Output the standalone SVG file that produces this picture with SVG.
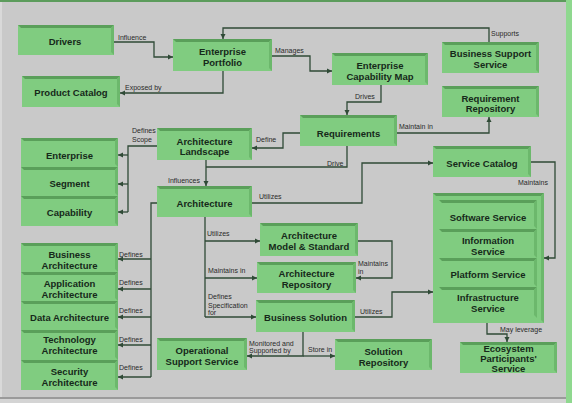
<svg xmlns="http://www.w3.org/2000/svg" width="572" height="403" viewBox="0 0 572 403">
<defs>
<marker id="a" markerWidth="6" markerHeight="6" refX="5" refY="3" orient="auto" markerUnits="userSpaceOnUse"><path d="M0,0.5 L5,3 L0,5.5z" fill="#2f4a36"/></marker>
<style>
.f{fill:#80cc80}
.t{fill:#5a9f5a}
.r{fill:#6cb86c}
.n{font-family:"Liberation Sans",Arial,sans-serif;font-weight:bold;font-size:9.5px;fill:#16291a;text-anchor:middle}
.l{font-family:"Liberation Sans",Arial,sans-serif;font-size:7px;fill:#2a2a2a}
.c{fill:none;stroke:#2f4a36;stroke-width:1.3}
.c .h{marker-end:url(#a)}
</style>
</defs>
<rect x="0" y="0" width="572" height="403" fill="#c9c9c9"/>
<rect x="0" y="0" width="2" height="403" fill="#d9d9d9"/>
<rect x="0" y="0" width="572" height="2" fill="#5c9c5c"/>
<rect x="566" y="0" width="6" height="403" fill="#8fd88f"/>
<rect x="0" y="397" width="566" height="2" fill="#9a9a9a"/>
<rect x="0" y="399" width="566" height="4" fill="#d4d4d4"/>

<g id="connectors" class="c">
<path class="h" d="M114,42H154V57H173"/>
<path class="h" d="M223,71V93H120"/>
<path class="h" d="M489,42V28H223V39"/>
<path class="h" d="M272,56H310V71H332"/>
<path class="h" d="M381,85V102H347V115"/>
<path class="h" d="M397,133H489V117"/>
<path class="h" d="M300,133H283V148H252"/>
<path d="M347,146V167H206"/>
<path class="h" d="M206,160V186"/>
<path class="h" d="M252,203H362V163H433"/>
<path class="h" d="M531,162H555V258H544"/>
<path d="M205,217V317"/>
<path class="h" d="M205,241H260"/>
<path class="h" d="M205,278H257"/>
<path class="h" d="M205,317H256"/>
<path class="h" d="M358,241H392V278H356"/>
<path class="h" d="M355,317H392V292H433"/>
<path class="h" d="M487,323V334H507V342"/>
<path class="h" d="M303,332V356H247"/>
<path class="h" d="M303,356H335"/>
<path d="M157,203H151V377"/>
<path class="h" d="M151,259H118"/>
<path class="h" d="M151,289H118"/>
<path class="h" d="M151,317H118"/>
<path class="h" d="M151,345H118"/>
<path class="h" d="M151,377H118"/>
<path d="M157,146H128V212"/>
<path class="h" d="M128,155H118"/>
<path class="h" d="M128,184H118"/>
<path class="h" d="M128,212H118"/>
</g>

<g id="labels">
<text class="l" x="118" y="40">Influence</text>
<text class="l" x="125" y="90">Exposed by</text>
<text class="l" x="491" y="35.5">Supports</text>
<text class="l" x="275" y="53">Manages</text>
<text class="l" x="355" y="99">Drives</text>
<text class="l" x="399" y="128.5">Maintain in</text>
<text class="l" x="256" y="142">Define</text>
<text class="l" x="327" y="166">Drive</text>
<text class="l" x="168" y="182.5">Influences</text>
<text class="l" x="259" y="198.5">Utilizes</text>
<text class="l" x="518" y="185">Maintains</text>
<text class="l" x="132" y="133">Defines</text>
<text class="l" x="132" y="142">Scope</text>
<text class="l" x="207" y="236">Utilizes</text>
<text class="l" x="208" y="273">Maintains in</text>
<text class="l" x="208" y="299">Defines</text>
<text class="l" x="208" y="307.5">Specification</text>
<text class="l" x="208" y="315">for</text>
<text class="l" x="358" y="266">Maintains</text>
<text class="l" x="358" y="274">in</text>
<text class="l" x="360" y="314">Utilizes</text>
<text class="l" x="500" y="331.5">May leverage</text>
<text class="l" x="249" y="346">Monitored and</text>
<text class="l" x="249" y="353">Supported by</text>
<text class="l" x="308" y="352">Store in</text>
<text class="l" x="119" y="256.5">Defines</text>
<text class="l" x="119" y="285">Defines</text>
<text class="l" x="119" y="312.5">Defines</text>
<text class="l" x="119" y="342">Defines</text>
<text class="l" x="119" y="370">Defines</text>
</g>

<g id="drivers"><rect class="f" x="18" y="25" width="96" height="30"/><path class="t" d="M18,25h96l-3,3h-90z"/><path class="r" d="M114,25v30l-3,-3v-24z"/><text class="n" x="65" y="45">Drivers</text></g>
<g id="enterprise-portfolio"><rect class="f" x="173" y="39" width="99" height="32"/><path class="t" d="M173,39h99l-3,3h-93z"/><path class="r" d="M272,39v32l-3,-3v-26z"/><text class="n" x="222.5" y="55">Enterprise</text><text class="n" x="222.5" y="66">Portfolio</text></g>
<g id="product-catalog"><rect class="f" x="22" y="76" width="98" height="31"/><path class="t" d="M22,76h98l-3,3h-92z"/><path class="r" d="M120,76v31l-3,-3v-25z"/><text class="n" x="71" y="96">Product Catalog</text></g>
<g id="enterprise-capability-map"><rect class="f" x="332" y="53" width="96" height="32"/><path class="t" d="M332,53h96l-3,3h-90z"/><path class="r" d="M428,53v32l-3,-3v-26z"/><text class="n" x="380" y="69">Enterprise</text><text class="n" x="380" y="79.5">Capability Map</text></g>
<g id="business-support-service"><rect class="f" x="442" y="42" width="97" height="31"/><path class="t" d="M442,42h97l-3,3h-91z"/><path class="r" d="M539,42v31l-3,-3v-25z"/><text class="n" x="490.5" y="57">Business Support</text><text class="n" x="490.5" y="67.5">Service</text></g>
<g id="requirement-repository"><rect class="f" x="442" y="86" width="97" height="31"/><path class="t" d="M442,86h97l-3,3h-91z"/><path class="r" d="M539,86v31l-3,-3v-25z"/><text class="n" x="490.5" y="101.5">Requirement</text><text class="n" x="490.5" y="112">Repository</text></g>
<g id="requirements"><rect class="f" x="300" y="115" width="97" height="31"/><path class="t" d="M300,115h97l-3,3h-91z"/><path class="r" d="M397,115v31l-3,-3v-25z"/><text class="n" x="348.5" y="137">Requirements</text></g>
<g id="service-catalog"><rect class="f" x="433" y="146" width="98" height="31"/><path class="t" d="M433,146h98l-3,3h-92z"/><path class="r" d="M531,146v31l-3,-3v-25z"/><text class="n" x="482" y="167">Service Catalog</text></g>
<g id="architecture-landscape"><rect class="f" x="157" y="128" width="95" height="32"/><path class="t" d="M157,128h95l-3,3h-89z"/><path class="r" d="M252,128v32l-3,-3v-26z"/><text class="n" x="204.5" y="144.5">Architecture</text><text class="n" x="204.5" y="155">Landscape</text></g>
<g id="enterprise"><rect class="f" x="21" y="138" width="97" height="29"/><path class="t" d="M21,138h97l-3,3h-91z"/><path class="r" d="M118,138v29l-3,-3v-23z"/><text class="n" x="69.5" y="159">Enterprise</text></g>
<g id="segment"><rect class="f" x="21" y="167" width="97" height="29"/><path class="t" d="M21,167h97l-3,3h-91z"/><path class="r" d="M118,167v29l-3,-3v-23z"/><text class="n" x="69.5" y="187">Segment</text></g>
<g id="capability"><rect class="f" x="21" y="196" width="97" height="30"/><path class="t" d="M21,196h97l-3,3h-91z"/><path class="r" d="M118,196v30l-3,-3v-24z"/><text class="n" x="69.5" y="216">Capability</text></g>
<g id="architecture"><rect class="f" x="157" y="186" width="95" height="31"/><path class="t" d="M157,186h95l-3,3h-89z"/><path class="r" d="M252,186v31l-3,-3v-25z"/><text class="n" x="204.5" y="207">Architecture</text></g>
<g id="architecture-model-standard"><rect class="f" x="260" y="223" width="98" height="33"/><path class="t" d="M260,223h98l-3,3h-92z"/><path class="r" d="M358,223v33l-3,-3v-27z"/><text class="n" x="309" y="239">Architecture</text><text class="n" x="309" y="250">Model &amp; Standard</text></g>
<g id="architecture-repository"><rect class="f" x="257" y="262" width="99" height="31"/><path class="t" d="M257,262h99l-3,3h-93z"/><path class="r" d="M356,262v31l-3,-3v-25z"/><text class="n" x="306.5" y="277">Architecture</text><text class="n" x="306.5" y="287.5">Repository</text></g>
<g id="business-solution"><rect class="f" x="256" y="300" width="99" height="32"/><path class="t" d="M256,300h99l-3,3h-93z"/><path class="r" d="M355,300v32l-3,-3v-26z"/><text class="n" x="305.5" y="321">Business Solution</text></g>
<g id="services">
<rect class="f" x="433" y="193" width="111" height="130"/><path class="t" d="M433,193h111l-3,3h-105z"/><path class="r" d="M544,193v130l-3,-3v-124z"/>
<g id="software-service"><rect class="f" x="439" y="200" width="98" height="29"/><path class="t" d="M439,200h98l-3,3h-92z"/><path class="r" d="M537,200v29l-3,-3v-23z"/><text class="n" x="488" y="221">Software Service</text></g>
<g id="information-service"><rect class="f" x="439" y="229" width="98" height="29"/><path class="t" d="M439,229h98l-3,3h-92z"/><path class="r" d="M537,229v29l-3,-3v-23z"/><text class="n" x="488" y="244">Information</text><text class="n" x="488" y="254.5">Service</text></g>
<g id="platform-service"><rect class="f" x="439" y="258" width="98" height="29"/><path class="t" d="M439,258h98l-3,3h-92z"/><path class="r" d="M537,258v29l-3,-3v-23z"/><text class="n" x="488" y="278">Platform Service</text></g>
<g id="infrastructure-service"><rect class="f" x="439" y="287" width="98" height="31"/><path class="t" d="M439,287h98l-3,3h-92z"/><path class="r" d="M537,287v31l-3,-3v-25z"/><text class="n" x="488" y="301">Infrastructure</text><text class="n" x="488" y="311.5">Service</text></g>
</g>
<g id="ecosystem-participants-service"><rect class="f" x="460" y="342" width="97" height="31"/><path class="t" d="M460,342h97l-3,3h-91z"/><path class="r" d="M557,342v31l-3,-3v-25z"/><text class="n" x="508.5" y="352">Ecosystem</text><text class="n" x="508.5" y="362">Participants'</text><text class="n" x="508.5" y="372">Service</text></g>
<g id="solution-repository"><rect class="f" x="335" y="339" width="97" height="31"/><path class="t" d="M335,339h97l-3,3h-91z"/><path class="r" d="M432,339v31l-3,-3v-25z"/><text class="n" x="383.5" y="355">Solution</text><text class="n" x="383.5" y="365.5">Repository</text></g>
<g id="operational-support-service"><rect class="f" x="157" y="338" width="90" height="32"/><path class="t" d="M157,338h90l-3,3h-84z"/><path class="r" d="M247,338v32l-3,-3v-26z"/><text class="n" x="202" y="354">Operational</text><text class="n" x="202" y="365">Support Service</text></g>
<g id="business-architecture"><rect class="f" x="21" y="243" width="97" height="29"/><path class="t" d="M21,243h97l-3,3h-91z"/><path class="r" d="M118,243v29l-3,-3v-23z"/><text class="n" x="69.5" y="258">Business</text><text class="n" x="69.5" y="268.5">Architecture</text></g>
<g id="application-architecture"><rect class="f" x="21" y="272" width="97" height="29"/><path class="t" d="M21,272h97l-3,3h-91z"/><path class="r" d="M118,272v29l-3,-3v-23z"/><text class="n" x="69.5" y="287">Application</text><text class="n" x="69.5" y="297.5">Architecture</text></g>
<g id="data-architecture"><rect class="f" x="21" y="301" width="97" height="29"/><path class="t" d="M21,301h97l-3,3h-91z"/><path class="r" d="M118,301v29l-3,-3v-23z"/><text class="n" x="69.5" y="321">Data Architecture</text></g>
<g id="technology-architecture"><rect class="f" x="21" y="330" width="97" height="30"/><path class="t" d="M21,330h97l-3,3h-91z"/><path class="r" d="M118,330v30l-3,-3v-24z"/><text class="n" x="69.5" y="343">Technology</text><text class="n" x="69.5" y="353.5">Architecture</text></g>
<g id="security-architecture"><rect class="f" x="21" y="360" width="97" height="30"/><path class="t" d="M21,360h97l-3,3h-91z"/><path class="r" d="M118,360v30l-3,-3v-24z"/><text class="n" x="69.5" y="375">Security</text><text class="n" x="69.5" y="385.5">Architecture</text></g>
</svg>
